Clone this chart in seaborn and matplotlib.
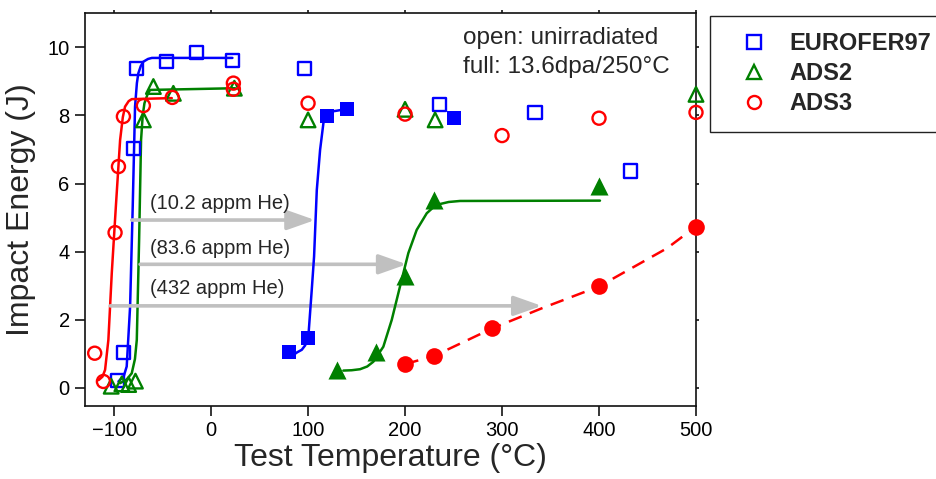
import matplotlib
matplotlib.use("Agg")
import matplotlib.pyplot as plt
import seaborn as sns
from matplotlib.lines import Line2D

# ---------------- data ----------------
euro_open_T = [-96.6, -90.4, -80, -76.6, -45.7, -14.8, 22, 96, 236, 334, 432]
euro_open_E = [0.21, 1.03, 7.04, 9.39, 9.58, 9.85, 9.61, 9.39, 8.31, 8.09, 6.37]
euro_full_T = [80, 100, 120, 140, 250]
euro_full_E = [1.07, 1.46, 7.99, 8.18, 7.94]

ads2_open_T = [-103, -92, -85, -78, -69.8, -59.5, -38.9, 24, 100, 200, 231, 500]
ads2_open_E = [0.05, 0.12, 0.10, 0.20, 7.87, 8.85, 8.65, 8.80, 7.87, 8.18, 7.87, 8.62]
ads2_full_T = [130, 170, 200, 230, 400]
ads2_full_E = [0.53, 1.07, 3.30, 5.52, 5.93]

ads3_open_T = [-120, -111, -99, -95.5, -90.4, -69.8, -40, 23, 23, 100, 200, 300, 400, 500]
ads3_open_E = [1.02, 0.19, 4.56, 6.50, 7.97, 8.29, 8.53, 8.95, 8.77, 8.36, 8.04, 7.41, 7.92, 8.09]
ads3_full_T = [200, 230, 290, 400, 500]
ads3_full_E = [0.70, 0.94, 1.75, 2.98, 4.74]

# fitted transition curves
euro_fit_unirr_T = [-95.5, -90, -87, -83.5, -80.8, -78.4, -76.5, -75, -72.5, -69.8, -65, -61, 22]
euro_fit_unirr_E = [0.19, 0.35, 0.63, 2.39, 5.32, 8.26, 8.95, 9.24, 9.45, 9.58, 9.66, 9.69, 9.69]
ads2_fit_unirr_T = [-93.8, -87, -81.8, -78.5, -76.6, -74.2, -72.2, -70.5, -68.7, -65.5, -62.9, 24.7]
ads2_fit_unirr_E = [0.14, 0.25, 0.43, 0.85, 1.41, 4.35, 7.28, 8.0, 8.36, 8.62, 8.75, 8.80]
ads3_fit_unirr_T = [-116, -112, -109.3, -105.9, -102.4, -98.2, -93.8, -91, -88.7, -85, -81.8, -40.5]
ads3_fit_unirr_E = [0.23, 0.33, 0.53, 1.41, 3.37, 5.32, 7.28, 7.95, 8.26, 8.42, 8.48, 8.51]

euro_fit_irr_T = [84.9, 89, 93.5, 97, 100.3, 103.8, 106.2, 109, 112.4, 115.8, 117.5, 119.3, 123, 129.6, 139.9]
euro_fit_irr_E = [0.97, 1.05, 1.12, 1.25, 1.51, 2.88, 3.86, 5.81, 6.99, 7.77, 7.97, 8.07, 8.11, 8.14, 8.19]
ads2_fit_irr_T = [136.4, 145, 153.6, 161, 167.3, 177.6, 186.3, 194.8, 203.4, 212, 222.4, 229, 236, 245, 256.7, 401]
ads2_fit_irr_E = [0.51, 0.52, 0.55, 0.63, 0.77, 1.21, 2.00, 2.98, 3.96, 4.64, 5.13, 5.30, 5.40, 5.46, 5.49, 5.50]
ads3_fit_irr_T = [200, 230, 290, 342, 400, 470, 500]
ads3_fit_irr_E = [0.70, 0.94, 1.75, 2.35, 2.98, 4.10, 4.74]

# shift arrows
arrow_start_T = [-81.8, -73.2, -104]
arrow_end_T = [107.2, 201.7, 341]
arrow_E = [4.93, 3.63, 2.41]
arrow_labels = ["(10.2 appm He)", "(83.6 appm He)", "(432 appm He)"]
arrow_label_T = [-63, -63, -63]
arrow_label_E = [5.43, 4.10, 2.93]

series_names = ["EUROFER97", "ADS2", "ADS3"]
x_ticks = [-100, 0, 100, 200, 300, 400, 500]
y_ticks = [0, 2, 4, 6, 8, 10]

# ---------------- style ----------------
sns.set_style("ticks")
plt.rcParams["font.family"] = ["Liberation Sans", "DejaVu Sans"]

BLUE, GREEN, RED, GRAY = "#0000ff", "#008000", "#ff0000", "#c0c0c0"

fig = plt.figure(figsize=(9.36, 4.79), dpi=100)
ax = fig.add_axes([85 / 936, 1 - 406 / 479, (696 - 85) / 936, (406 - 13.3) / 479])

LW = 1.8

def curve(T, E, color, ls="-", z=3):
    sns.lineplot(x=T, y=E, color=color, lw=LW, ls=ls, ax=ax, sort=False,
                 estimator=None, zorder=z)

# unirradiated fits
curve(euro_fit_unirr_T, euro_fit_unirr_E, BLUE, z=3)
curve(ads2_fit_unirr_T, ads2_fit_unirr_E, GREEN, z=3)
curve(ads3_fit_unirr_T, ads3_fit_unirr_E, RED, z=3)

# arrows
for x0, x1, e, lab, lt, le in zip(arrow_start_T, arrow_end_T, arrow_E,
                                  arrow_labels, arrow_label_T, arrow_label_E):
    ax.annotate("", xy=(x1, e), xytext=(x0, e),
                arrowprops=dict(arrowstyle="-|>,head_length=0.85,head_width=0.3",
                                color=GRAY, lw=2.6, mutation_scale=20,
                                shrinkA=0, shrinkB=0), zorder=4)
    ax.text(lt, le, lab, fontsize=14.5, va="center", ha="left", zorder=6)

# irradiated fits
curve(euro_fit_irr_T, euro_fit_irr_E, BLUE, z=5)
curve(ads2_fit_irr_T, ads2_fit_irr_E, GREEN, z=5)
curve(ads3_fit_irr_T, ads3_fit_irr_E, RED, ls=(0, (5.5, 3.5)), z=5)

def pts(T, E, color, marker, size, filled):
    if filled:
        sns.scatterplot(x=T, y=E, marker=marker, s=size ** 2, color=color,
                        edgecolor=color, linewidth=0, ax=ax, zorder=7,
                        clip_on=False)
    else:
        sns.scatterplot(x=T, y=E, marker=marker, s=size ** 2, facecolor="none",
                        edgecolor=color, linewidth=1.7, ax=ax, zorder=7,
                        clip_on=False)

pts(euro_open_T, euro_open_E, BLUE, "s", 9.4, False)
pts(ads2_open_T, ads2_open_E, GREEN, "^", 10.5, False)
pts(ads3_open_T, ads3_open_E, RED, "o", 9.4, False)
pts(euro_full_T, euro_full_E, BLUE, "s", 10, True)
pts(ads2_full_T, ads2_full_E, GREEN, "^", 13, True)
pts(ads3_full_T, ads3_full_E, RED, "o", 12, True)

# axes
ax.set_xlim(-130, 500)
ax.set_ylim(-0.53, 11.0)
ax.set_xticks(x_ticks)
ax.set_yticks(y_ticks)
ax.tick_params(axis="both", which="major", direction="out", length=7, width=1.1,
               labelsize=14.5, pad=4, color="black", labelcolor="black")
ax.tick_params(top=True, right=True, which="major")
for s in ax.spines.values():
    s.set_linewidth(1.2)
    s.set_color("#111111")
ax.set_xlabel("Test Temperature (°C)", fontsize=23, labelpad=2)
ax.set_ylabel("Impact Energy (J)", fontsize=23, labelpad=8)
for t in ax.xaxis.get_major_ticks():
    t.tick2line.set_markersize(2)
for t in ax.yaxis.get_major_ticks():
    t.tick2line.set_markersize(2)
ax.grid(False)

ax.text(259.8, 10.28, "open: unirradiated", fontsize=17.5, va="center", ha="left")
ax.text(259.8, 9.43, "full: 13.6dpa/250°C", fontsize=17.5, va="center", ha="left")

# legend
handles = [
    Line2D([], [], ls="", marker="s", ms=9.4, mfc="none", mec=BLUE, mew=1.7),
    Line2D([], [], ls="", marker="^", ms=10.5, mfc="none", mec=GREEN, mew=1.7),
    Line2D([], [], ls="", marker="o", ms=9.4, mfc="none", mec=RED, mew=1.7),
]
leg = fig.legend(handles, series_names, loc="upper left",
                 bbox_to_anchor=(710 / 936, 1 - 15.7 / 479),
                 bbox_transform=fig.transFigure, frameon=True, fancybox=False,
                 shadow=False, borderaxespad=0, borderpad=0.7, handlelength=2.3,
                 handletextpad=0.35, labelspacing=0.3,
                 prop={"size": 17, "weight": "bold"})
leg.get_frame().set_edgecolor("#222222")
leg.get_frame().set_linewidth(1.0)
leg.get_frame().set_alpha(1)

fig.savefig("out.png", dpi=100)
